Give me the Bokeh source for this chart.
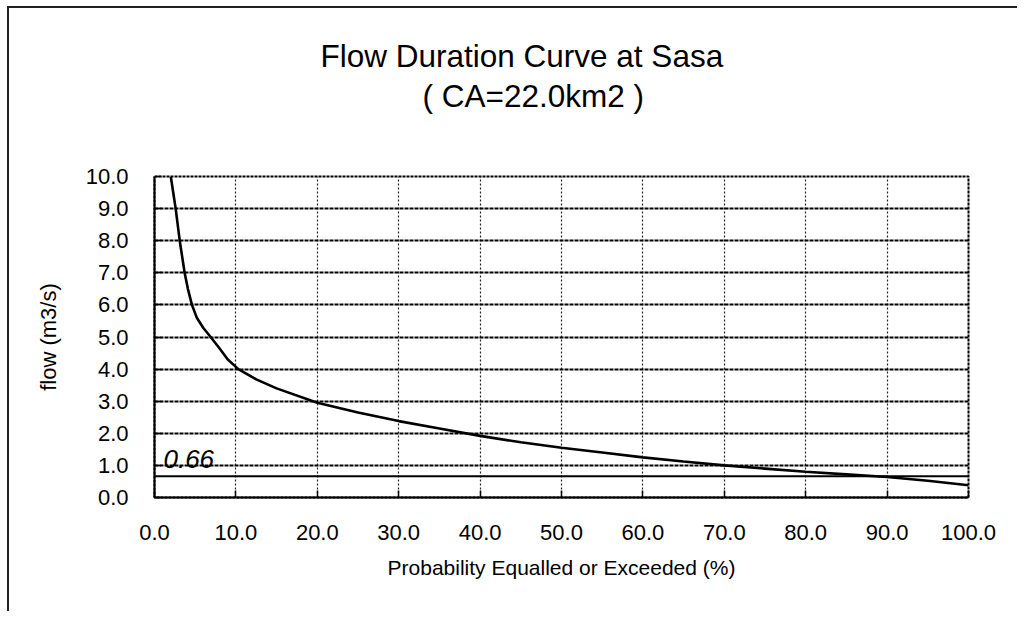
from bokeh.plotting import figure
from bokeh.models import (Range1d, FixedTicker, PrintfTickFormatter, Label, Span,
                          Title, LinearAxis)
from bokeh.embed import file_html
from bokeh.resources import INLINE

# ---- data ----
prob = [2.0, 2.3, 2.6, 3.1, 3.7, 4.1, 4.6, 5.2, 6.0, 6.9, 8.0, 9.0, 10.3,
        12.5, 15.0, 20.0, 25.0, 30.0, 35.0, 40.0, 45.0, 50.0, 55.0, 60.0,
        65.0, 70.0, 75.0, 80.0, 85.0, 90.0, 95.0, 100.0]
flow = [10.0, 9.5, 9.0, 8.0, 7.0, 6.5, 6.0, 5.6, 5.28, 5.0, 4.64, 4.3, 4.0,
        3.68, 3.4, 2.95, 2.65, 2.38, 2.15, 1.92, 1.72, 1.55, 1.40, 1.25,
        1.12, 1.00, 0.90, 0.80, 0.72, 0.64, 0.52, 0.38]
firm_flow = 0.66
firm_label = "0.66"
x_ticks = [0, 10, 20, 30, 40, 50, 60, 70, 80, 90, 100]
y_ticks = [0, 1, 2, 3, 4, 5, 6, 7, 8, 9, 10]
title_line1 = "Flow Duration Curve at Sasa"
title_line2 = "( CA=22.0km2 )"
x_label = "Probability Equalled or Exceeded (%)"
y_label = "flow (m3/s)"

FONT = "Liberation Sans"

p = figure(width=1010, height=605,
           x_range=Range1d(0, 100), y_range=Range1d(0, 10),
           output_backend="svg", toolbar_location=None,
           min_border_left=145, min_border_right=51,
           min_border_top=168, min_border_bottom=116,
           background_fill_color="white", border_fill_color="white")
p.styles = {"border-left": "2px solid #222", "border-top": "2px solid #222",
            "margin-left": "7px", "margin-top": "6px"}

xax = p.below[0]
yax = p.left[0]

# blank spacer between plot frame and the title lines
spacer = LinearAxis(ticker=FixedTicker(ticks=[0]), axis_line_color=None,
                    major_tick_line_color="white", minor_tick_line_color=None,
                    major_tick_out=61, major_tick_in=0, minor_tick_out=0,
                    minor_tick_in=0, major_label_overrides={0: ""},
                    major_label_standoff=0, major_label_text_font_size="1px")
p.add_layout(spacer, "above")

# second title line (closer to plot), first line is the figure title
t2 = Title(text=title_line2, text_font=FONT, text_font_size="31.5px",
           text_font_style="normal", text_color="black", align="left",
           offset=268, vertical_align="middle", standoff=2)
p.add_layout(t2, "above")

p.title.text = title_line1
p.title.text_font = FONT
p.title.text_font_size = "31.5px"
p.title.text_font_style = "normal"
p.title.text_color = "black"
p.title.align = "left"
p.title.offset = 166
p.title.vertical_align = "middle"
p.title.standoff = 2

p.outline_line_color = "black"
p.outline_line_width = 2
p.outline_line_dash = "3 1"

# grids
p.ygrid.ticker = FixedTicker(ticks=y_ticks)
p.xgrid.ticker = FixedTicker(ticks=x_ticks)
p.ygrid.grid_line_color = "black"
p.ygrid.grid_line_width = 2
p.ygrid.grid_line_dash = "4 1"
p.xgrid.grid_line_color = "#222222"
p.xgrid.grid_line_width = 1.2
p.xgrid.grid_line_dash = "2 2"

# axes
for ax in (xax, yax):
    ax.axis_line_color = "black"
    ax.axis_line_width = 2
    ax.major_tick_line_color = "black"
    ax.major_tick_line_width = 1.5
    ax.major_tick_in = 7
    ax.major_tick_out = 0
    ax.minor_tick_line_color = None
    ax.major_label_text_font = FONT
    ax.major_label_text_color = "black"
    ax.axis_label_text_font = FONT
    ax.axis_label_text_font_style = "normal"
    ax.axis_label_text_color = "black"
    ax.formatter = PrintfTickFormatter(format="%.1f")

xax.ticker = FixedTicker(ticks=x_ticks)
yax.ticker = FixedTicker(ticks=y_ticks)
xax.major_label_text_font_size = "22px"
yax.major_label_text_font_size = "22px"
xax.major_label_standoff = 27
yax.major_label_standoff = 26
xax.axis_label = x_label
yax.axis_label = y_label
xax.axis_label_text_font_size = "21px"
yax.axis_label_text_font_size = "22px"
xax.axis_label_standoff = 13
yax.axis_label_standoff = 22

# curve and firm flow line
p.line(prob, flow, line_color="black", line_width=2.6)
p.add_layout(Span(location=firm_flow, dimension="width", line_color="black",
                  line_width=2))
p.add_layout(Label(x=1.1, y=1.21, text=firm_label, text_font=FONT,
                   text_font_style="italic", text_font_size="26px",
                   text_color="black", text_baseline="middle",
                   text_align="left"))

open("out.html", "w").write(file_html(p, INLINE))
